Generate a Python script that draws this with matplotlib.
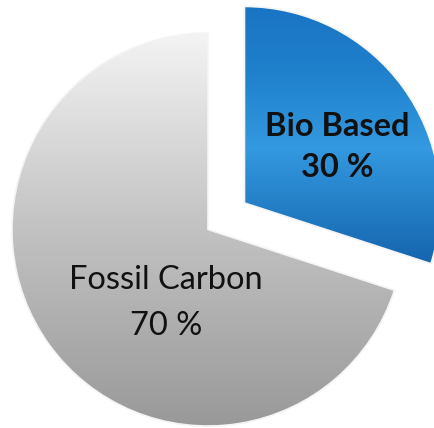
import numpy as np
import matplotlib
matplotlib.use("Agg")
import matplotlib.pyplot as plt
from matplotlib.colors import LinearSegmentedColormap

# Carbon source shares
categories = ["Bio Based", "Fossil Carbon"]
shares = [30, 70]
explode = [0.23, 0.0]

fig = plt.figure(figsize=(4.35, 4.28), dpi=100)
ax = fig.add_axes([0, 0, 1, 1])
ax.set_xlim(-1.061, 1.158)
ax.set_ylim(-1.010, 1.168)
ax.set_aspect("equal")
ax.axis("off")

wedges, _ = ax.pie(shares, explode=explode, startangle=90, counterclock=False,
                   radius=1.0, center=(0, 0),
                   wedgeprops=dict(edgecolor="none", linewidth=0))

gradients = [
    LinearSegmentedColormap.from_list(
        "bio", [(0.0, "#1565ad"), (0.45, "#3399e0"), (0.75, "#1f80cc"), (1.0, "#1a74c4")]),
    LinearSegmentedColormap.from_list(
        "fossil", [(0.0, "#999999"), (0.5, "#c2c2c2"), (1.0, "#f4f4f4")]),
]

ramp = np.linspace(0, 1, 256).reshape(-1, 1)
for w, cmap in zip(wedges, gradients):
    w.set_facecolor("none")
    ext = w.get_path().get_extents(w.get_transform() - ax.transData)
    im = ax.imshow(ramp, cmap=cmap, origin="lower", aspect="auto",
                   extent=[ext.x0, ext.x1, ext.y0, ext.y1], zorder=1,
                   interpolation="bilinear")
    im.set_clip_path(w)
    w.set_edgecolor("#f4f4f4")
    w.set_linewidth(1.2)
    w.set_zorder(2)

ax.set_xlim(-1.061, 1.158)
ax.set_ylim(-1.010, 1.168)

# Slice labels placed inside each wedge
ax.text(0.658, 0.42, f"{categories[0]}\n{shares[0]} %", ha="center", va="center",
        fontsize=23.5, fontweight="bold", family=["Lato", "DejaVu Sans"],
        linespacing=1.5, color="#111111", zorder=3)
ax.text(-0.214, -0.375, f"{categories[1]}\n{shares[1]} %", ha="center", va="center",
        fontsize=23.5, family=["Lato", "DejaVu Sans"],
        linespacing=1.65, color="#111111", zorder=3)

fig.savefig("out.png", dpi=100, facecolor="white")
